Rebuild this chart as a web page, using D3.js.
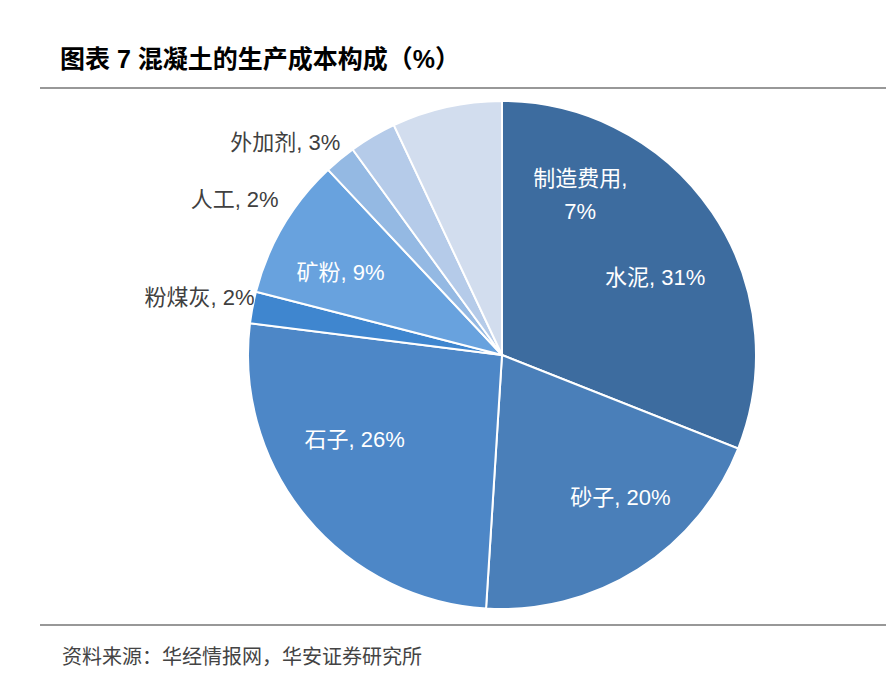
<!DOCTYPE html><html><head><meta charset="utf-8"><script src="https://cdn.jsdelivr.net/npm/d3@7"></script>
<style>body{margin:0;background:#fff}text{font-family:"Liberation Sans","Noto Sans CJK SC",sans-serif}</style></head><body>
<svg id="c" width="886" height="688"></svg>
<script>
const categories=["水泥","砂子","石子","粉煤灰","矿粉","人工","外加剂","制造费用"];
const values=[31,20,26,2,9,2,3,7];
const colors=["#3d6c9f","#4a7fb9","#4d87c7","#3f86cf","#68a2de","#94b9e3","#b5cbe9","#d2ddee"];
const inside=[true,true,true,false,true,false,false,true];
const svg=d3.select("#c");
svg.append("text").attr("x",60).attr("y",68).attr("font-size",25).attr("font-weight","bold").attr("font-family","Noto Sans CJK SC").text("图表 7 混凝土的生产成本构成（%）");
svg.append("line").attr("x1",40).attr("x2",886).attr("y1",88).attr("y2",88).attr("stroke","#333").attr("stroke-width",1.2);
svg.append("line").attr("x1",40).attr("x2",886).attr("y1",625).attr("y2",625).attr("stroke","#333").attr("stroke-width",1.2);
svg.append("text").attr("x",62).attr("y",664).attr("font-size",20).attr("fill","#444").attr("font-family","Noto Sans CJK SC").text("资料来源：华经情报网，华安证券研究所");
const cx=502,cy=355,R=254;
const off=[[23,11],[34,9],[-26,-16],[32,-5],[-26,-3],[-42,63],[-17,32],[117,10]];
const g=svg.append("g").attr("transform",`translate(${cx},${cy})`);
const pie=d3.pie().sort(null)(values);
const arc=d3.arc().innerRadius(0).outerRadius(R);
g.selectAll("path").data(pie).join("path").attr("d",arc).attr("fill",(d,i)=>colors[i]).attr("stroke","#fff").attr("stroke-width",2);
const lin=d3.arc().innerRadius(R*0.62).outerRadius(R*0.62);
const lout=d3.arc().innerRadius(R*1.12).outerRadius(R*1.12);
pie.forEach((d,i)=>{
  const lab=categories[i]+", "+values[i]+"%";
  if(inside[i]){
    let [x,y]=lin.centroid(d);
    const t=g.append("text").attr("font-size",22).attr("text-anchor","middle").attr("fill","#fff");
    if(i==7){[x,y]=d3.arc().innerRadius(R*0.7).outerRadius(R*0.7).centroid(d);
      t.append("tspan").attr("x",x+off[i][0]).attr("y",y-5+off[i][1]).text(categories[i]+",");
      t.append("tspan").attr("x",x+off[i][0]).attr("y",y+28+off[i][1]).text(values[i]+"%");}
    else t.attr("x",x+off[i][0]).attr("y",y+8+off[i][1]).text(lab);
  } else {
    const [x,y]=lout.centroid(d);
    g.append("text").attr("x",x+off[i][0]).attr("y",y+8+off[i][1]).attr("font-size",22).attr("text-anchor","end").attr("fill","#404040").text(lab);
  }
});
</script></body></html>
